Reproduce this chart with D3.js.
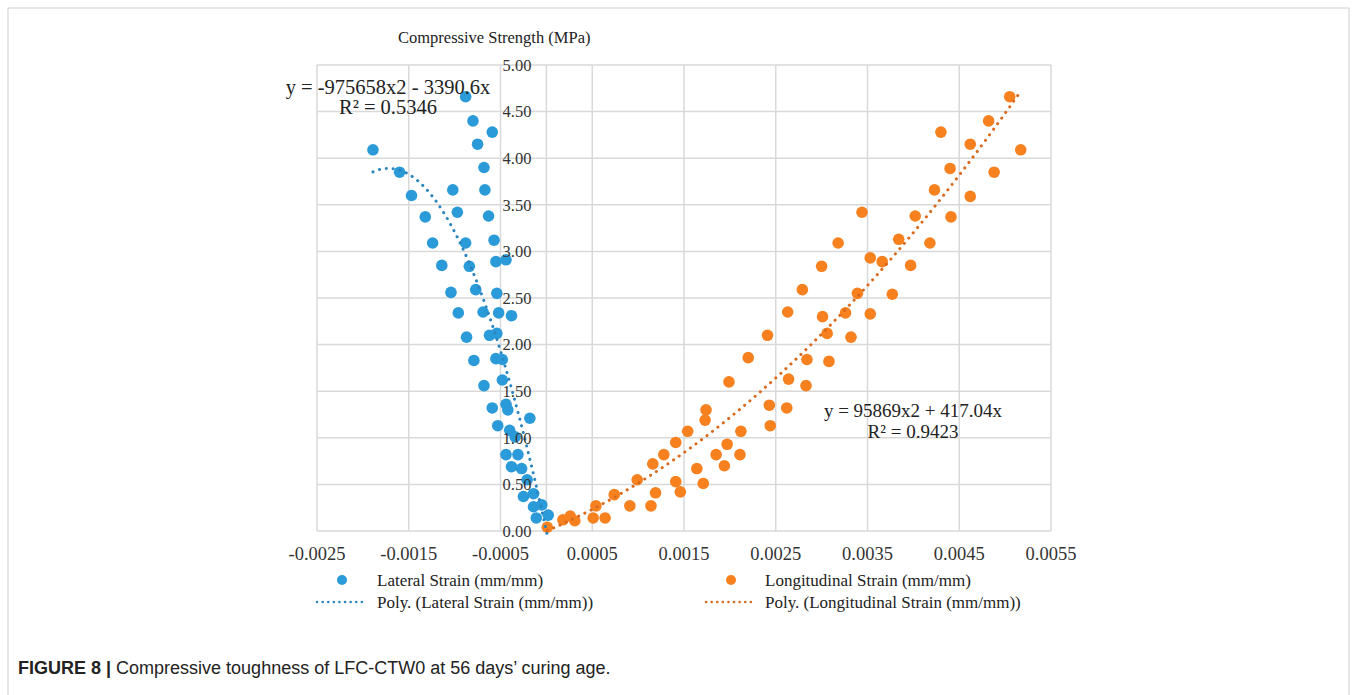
<!DOCTYPE html>
<html>
<head>
<meta charset="utf-8">
<script src="https://cdn.jsdelivr.net/npm/d3@7"></script>
<style>
  body { margin: 0; background: #fff; }
  svg { display: block; }
</style>
</head>
<body>
<div id="chart"></div>
<script>
// lateral strain points [strain, MPa]
const lateral = [
  [-0.00189, 4.09], [-0.0016, 3.85], [-0.00147, 3.6], [-0.00132, 3.37], [-0.00124, 3.09],
  [-0.00114, 2.85], [-0.00104, 2.56], [-0.00096, 2.34], [-0.00087, 2.08], [-0.00079, 1.83],
  [-0.00102, 3.66], [-0.00097, 3.42], [-0.00088, 3.09], [-0.00084, 2.84], [-0.00077, 2.59],
  [-0.00069, 2.35], [-0.00062, 2.1], [-0.00068, 1.56], [-0.00088, 4.66], [-0.0008, 4.4],
  [-0.00059, 4.28], [-0.00075, 4.15], [-0.00068, 3.9], [-0.00067, 3.66], [-0.00063, 3.38],
  [-0.00057, 3.12], [-0.00055, 2.89], [-0.00044, 2.91], [-0.00054, 2.55], [-0.00052, 2.34],
  [-0.00038, 2.31], [-0.00054, 2.12], [-0.00055, 1.85], [-0.00048, 1.84], [-0.00048, 1.62],
  [-0.00059, 1.32], [-0.00044, 1.36], [-0.00042, 1.3], [-0.00018, 1.21], [-0.00053, 1.13],
  [-0.0004, 1.08], [-0.00034, 1.01], [-0.00044, 0.82], [-0.00031, 0.82], [-0.00038, 0.69],
  [-0.00027, 0.67], [-0.00021, 0.55], [-0.00025, 0.37], [-0.00014, 0.4], [-0.00014, 0.26],
  [-0.00005, 0.28], [-0.00011, 0.14], [0.00002, 0.17],
];

// longitudinal strain points [strain, MPa]
const longitudinal = [
  [0.00001, 0.04], [0.00018, 0.12], [0.00026, 0.16], [0.00031, 0.11], [0.00051, 0.14],
  [0.00064, 0.14], [0.00054, 0.27], [0.00074, 0.39], [0.00099, 0.55], [0.00091, 0.27],
  [0.00114, 0.27], [0.00119, 0.41], [0.00116, 0.72], [0.00128, 0.82], [0.00141, 0.95],
  [0.00141, 0.53], [0.00146, 0.42], [0.00154, 1.07], [0.00164, 0.67], [0.00171, 0.51],
  [0.00173, 1.19], [0.00174, 1.3], [0.00185, 0.82], [0.00194, 0.7], [0.00197, 0.93],
  [0.00199, 1.6], [0.00211, 0.82], [0.00212, 1.07], [0.0022, 1.86], [0.00243, 1.35],
  [0.00244, 1.13], [0.00241, 2.1], [0.00262, 1.32], [0.00264, 1.63], [0.00263, 2.35],
  [0.00283, 1.56], [0.00284, 1.84], [0.00279, 2.59], [0.00301, 2.3], [0.003, 2.84],
  [0.00306, 2.12], [0.00308, 1.82], [0.00318, 3.09], [0.00326, 2.34], [0.00332, 2.08],
  [0.00339, 2.55], [0.00344, 3.42], [0.00353, 2.93], [0.00353, 2.33], [0.00366, 2.89],
  [0.00377, 2.54], [0.00384, 3.13], [0.00397, 2.85], [0.00402, 3.38], [0.00418, 3.09],
  [0.00423, 3.66], [0.0043, 4.28], [0.0044, 3.89], [0.00441, 3.37], [0.00462, 4.15],
  [0.00462, 3.59], [0.00482, 4.4], [0.00488, 3.85], [0.00505, 4.66], [0.00517, 4.09],
];

// trendline coefficients y = a*x^2 + b*x
const lateralTrend = [-1315000, -4524];
const longitudinalTrend = [95869, 417.04];

const xTicks = [-0.0025, -0.0015, -0.0005, 0.0005, 0.0015, 0.0025, 0.0035, 0.0045, 0.0055];
const yTicks = [0, 0.5, 1, 1.5, 2, 2.5, 3, 3.5, 4, 4.5, 5];

const width = 1357;
const height = 695;
const blue = "#2a9ad8";
const orange = "#f7801f";
const serif = "'Liberation Serif', 'Times New Roman', serif";

// plain hyphen for negatives, like the original labels
const locale = d3.formatLocale({ decimal: ".", thousands: ",", grouping: [3], currency: ["", ""], minus: "-" });

const svg = d3.select("#chart").append("svg")
  .attr("width", width)
  .attr("height", height);

// figure frame
svg.append("path")
  .attr("d", `M8,${height} V8 H1349 V${height}`)
  .attr("fill", "none")
  .attr("stroke", "#cfcfcf")
  .attr("stroke-width", 1);

const x = d3.scaleLinear().domain([-0.0025, 0.0055]).range([317, 1051]);
const y = d3.scaleLinear().domain([0, 5]).range([531, 65]);

// gridlines
svg.append("g")
  .selectAll("line")
  .data(xTicks)
  .enter()
  .append("line")
  .attr("x1", (d) => x(d))
  .attr("x2", (d) => x(d))
  .attr("y1", y(0))
  .attr("y2", y(5))
  .attr("stroke", "#d9d9d9")
  .attr("stroke-width", 1.5);

svg.append("g")
  .selectAll("line")
  .data(yTicks)
  .enter()
  .append("line")
  .attr("x1", x(-0.0025))
  .attr("x2", x(0.0055))
  .attr("y1", (d) => y(d))
  .attr("y2", (d) => y(d))
  .attr("stroke", "#d9d9d9")
  .attr("stroke-width", 1.5);

// vertical axis sits at x = 0
svg.append("line")
  .attr("x1", x(0))
  .attr("x2", x(0))
  .attr("y1", y(0))
  .attr("y2", y(5))
  .attr("stroke", "#d9d9d9")
  .attr("stroke-width", 1.5);

const trend = (data, [a, b]) => {
  const ext = d3.extent(data, (d) => d[0]);
  const n = 120;
  return d3.range(n + 1).map((i) => {
    const v = ext[0] + ((ext[1] - ext[0]) * i) / n;
    return [v, a * v * v + b * v];
  });
};

const line = d3.line()
  .x((d) => x(d[0]))
  .y((d) => y(d[1]));

const series = [
  { pts: lateral, coef: lateralTrend, color: blue, dot: "#2a85c0" },
  { pts: longitudinal, coef: longitudinalTrend, color: orange, dot: "#d9691c" },
];

series.forEach((s) => {
  svg.append("g")
    .selectAll("circle")
    .data(s.pts)
    .enter()
    .append("circle")
    .attr("cx", (d) => x(d[0]))
    .attr("cy", (d) => y(d[1]))
    .attr("r", 5.8)
    .attr("fill", s.color);
});

series.forEach((s) => {
  svg.append("path")
    .attr("d", line(trend(s.pts, s.coef)))
    .attr("fill", "none")
    .attr("stroke", s.dot)
    .attr("stroke-width", 3)
    .attr("stroke-linecap", "round")
    .attr("stroke-dasharray", "0.1 6.8");
});

// tick labels
svg.append("g")
  .selectAll("text")
  .data(xTicks)
  .enter()
  .append("text")
  .attr("x", (d) => x(d))
  .attr("y", 560)
  .attr("text-anchor", "middle")
  .style("font-family", serif)
  .style("font-size", "18.5px")
  .attr("fill", "#333")
  .text((d) => locale.format(".4f")(d));

svg.append("g")
  .selectAll("text")
  .data(yTicks)
  .enter()
  .append("text")
  .attr("x", x(0) - 15)
  .attr("y", (d) => y(d))
  .attr("dy", "0.35em")
  .attr("text-anchor", "end")
  .style("font-family", serif)
  .style("font-size", "16.5px")
  .attr("fill", "#333")
  .text((d) => locale.format(".2f")(d));

// axis title at the top
svg.append("text")
  .attr("x", 398)
  .attr("y", 43)
  .style("font-family", serif)
  .style("font-size", "16.5px")
  .attr("fill", "#222")
  .text("Compressive Strength (MPa)");

// trendline equations
const eqs = [
  { cx: 388, y1: 94, y2: 114, size: 20.5, lines: ["y = -975658x2 - 3390.6x", "R\u00b2 = 0.5346"] },
  { cx: 913, y1: 417, y2: 438, size: 19, lines: ["y = 95869x2 + 417.04x", "R\u00b2 = 0.9423"] },
];

eqs.forEach((e) => {
  e.lines.forEach((t, i) => {
    svg.append("text")
      .attr("x", e.cx)
      .attr("y", i === 0 ? e.y1 : e.y2)
      .attr("text-anchor", "middle")
      .style("font-family", serif)
      .style("font-size", e.size + "px")
      .attr("fill", "#222")
      .text(t);
  });
});

// legend
const legend = [
  { col: 0, row: 0, kind: "dot", color: blue, label: "Lateral Strain (mm/mm)" },
  { col: 1, row: 0, kind: "dot", color: orange, label: "Longitudinal Strain (mm/mm)" },
  { col: 0, row: 1, kind: "line", color: "#2a85c0", label: "Poly. (Lateral Strain (mm/mm))" },
  { col: 1, row: 1, kind: "line", color: "#d9691c", label: "Poly. (Longitudinal Strain (mm/mm))" },
];
const colX = [316, 705];
const rowY = [580, 602];

const items = svg.append("g")
  .selectAll("g")
  .data(legend)
  .enter()
  .append("g")
  .attr("transform", (d) => `translate(${colX[d.col]},${rowY[d.row]})`);

items.filter((d) => d.kind === "dot")
  .append("circle")
  .attr("cx", 26)
  .attr("cy", 0)
  .attr("r", 5)
  .attr("fill", (d) => d.color);

items.filter((d) => d.kind === "line")
  .append("line")
  .attr("x1", 1)
  .attr("x2", 49)
  .attr("y1", 0)
  .attr("y2", 0)
  .attr("stroke", (d) => d.color)
  .attr("stroke-width", 2.5)
  .attr("stroke-linecap", "round")
  .attr("stroke-dasharray", "0.1 5.5");

items.append("text")
  .attr("x", (d) => (d.col === 0 ? 61 : 60))
  .attr("y", 0)
  .attr("dy", "0.35em")
  .style("font-family", serif)
  .style("font-size", "17px")
  .attr("fill", "#222")
  .text((d) => d.label);

// caption
const cap = svg.append("text")
  .attr("x", 18)
  .attr("y", 674)
  .style("font-family", "'Liberation Sans', Arial, sans-serif")
  .style("font-size", "18px")
  .attr("fill", "#222");
cap.append("tspan").style("font-weight", "bold").text("FIGURE 8 | ");
cap.append("tspan").text("Compressive toughness of LFC-CTW0 at 56 days\u2019 curing age.");
</script>
</body>
</html>
